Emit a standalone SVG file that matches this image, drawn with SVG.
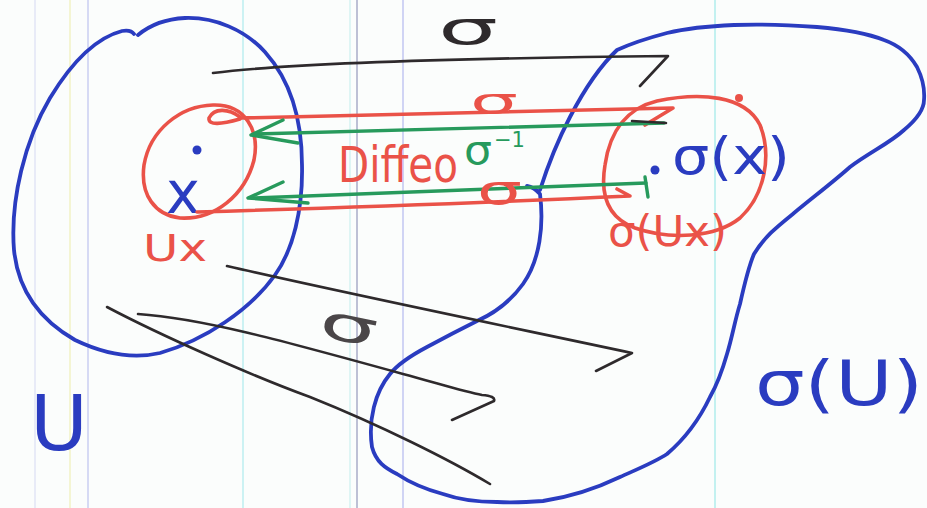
<svg xmlns="http://www.w3.org/2000/svg" width="927" height="508" viewBox="0 0 927 508">
<style>
.rule{stroke-width:1.5;fill:none}
.blue{stroke:#2a3cc0;stroke-width:3.8;fill:none;stroke-linecap:round;stroke-linejoin:round}
.red{stroke:#ea5248;stroke-width:3.6;fill:none;stroke-linecap:round;stroke-linejoin:round}
.green{stroke:#279a5c;stroke-width:3.4;fill:none;stroke-linecap:round;stroke-linejoin:round}
.black{stroke:#2e2a2c;stroke-width:2.6;fill:none;stroke-linecap:round;stroke-linejoin:round}
.t{font-family:"DejaVu Sans","Liberation Sans",sans-serif}
.tb{fill:#2a3cc0}.tr{fill:#ea5248}.tg{fill:#279a5c}.tk{fill:#2e2a2c}
</style>
<rect width="927" height="508" fill="#fbfdfc"/>
<g id="paper-rules">
<line class="rule" x1="35" y1="0" x2="35" y2="508" stroke="#e2e4f6"/>
<line class="rule" x1="70" y1="0" x2="70" y2="508" stroke="#f2f2c6"/>
<line class="rule" x1="88" y1="0" x2="88" y2="508" stroke="#cacef2"/>
<line class="rule" x1="243" y1="0" x2="243" y2="508" stroke="#bdeef0"/>
<line class="rule" x1="350" y1="0" x2="350" y2="508" stroke="#d4f2f2"/>
<line class="rule" x1="357" y1="0" x2="357" y2="508" stroke="#a9abc9"/>
<line class="rule" x1="403" y1="0" x2="403" y2="508" stroke="#c2c6f2"/>
<line class="rule" x1="715" y1="0" x2="715" y2="508" stroke="#b0ecec"/>
</g>
<g id="set-U">
<path class="blue" d="M138,35 C150,25 165,19 185,18 C215,17 245,30 265,52 C290,80 302,120 302,165 C303,210 293,250 275,275 C250,310 205,340 160,353 C130,360 100,352 75,340 C40,320 18,290 14,250 C10,200 25,140 50,98 C70,65 95,38 122,31 C128,30 132,31 134,34"/>
<text class="t tb" x="30" y="450" font-size="76" textLength="58" lengthAdjust="spacingAndGlyphs">U</text>
</g>
<g id="set-sigmaU">
<path class="blue" d="M527,186 Q534,187 540,194 C544,225 540,260 523,284 C510,302 495,313 477,321 C455,332 440,340 427,347 C410,356 398,364 390,374 C375,392 368,420 372,447 C376,462 385,468 397,474 C412,484 428,490 443,494 C460,500 480,502 497,502 C515,503 530,502 543,501 C570,497 597,488 620,477 C640,468 655,462 667,454 C687,437 700,418 710,397 C718,383 723,368 727,354 C732,338 735,320 740,304 C744,286 748,268 754,254 C765,236 778,226 794,213 C812,198 832,183 850,167 C870,152 890,143 904,130 C916,120 924,110 924,100 C925,88 922,77 917,67 C910,55 898,45 884,40 C864,32 840,29 817,27 C790,25 762,24 734,25 C710,26 688,28 667,33 C648,38 630,44 617,50 C598,68 583,92 570,117 C558,140 548,165 540,190"/>
<text class="t tb" x="755" y="405" font-size="62" textLength="168" lengthAdjust="spacingAndGlyphs">σ(U)</text>
</g>
<g id="nbhd-Ux">
<path class="red" d="M213,105 C180,106 150,130 144,165 C140,195 155,215 180,218 C215,220 245,195 254,160 C260,130 245,104 213,105 Z"/>
<path class="red" d="M240,117 C228,108 214,108 209,118 C208,126 222,124 240,119"/>
<circle cx="197" cy="150" r="4.5" fill="#2a3cc0"/>
<text class="t tb" x="166" y="213" font-size="58" textLength="34" lengthAdjust="spacingAndGlyphs">x</text>
<text class="t tr" x="143" y="261" font-size="38" textLength="64" lengthAdjust="spacingAndGlyphs">Ux</text>
</g>
<g id="nbhd-sigmaUx">
<path class="red" d="M657,101 C700,92 745,95 760,125 C772,155 765,195 740,218 C715,238 670,240 635,228 C608,218 600,195 605,165 C610,130 628,108 657,101 Z"/>
<circle cx="739" cy="98" r="4" fill="#ea5248"/>
<circle cx="655" cy="170" r="4.5" fill="#2a3cc0"/>
<text class="t tb" x="672" y="174" font-size="52" textLength="118" lengthAdjust="spacingAndGlyphs">σ(x)</text>
<text class="t tr" x="608" y="246" font-size="42" textLength="119" lengthAdjust="spacingAndGlyphs">σ(Ux)</text>
</g>
<g id="connectors">
<path class="black" d="M213,73 C300,62 480,58 668,56 L640,86"/>
<path class="black" d="M227,266 C330,290 500,325 632,353 L596,371"/>
<path class="black" d="M138,314 C200,318 280,340 403,374 C440,384 465,392 482,395 Q496,396 494,401 L452,420"/>
<path class="black" d="M107,307 C160,335 250,375 310,397 C380,425 450,460 490,484"/>
<path class="red" d="M240,118 C350,116 500,113 673,108 L645,125"/>
<path class="red" d="M197,212 C300,209 480,203 630,196 L617,189"/>
<path class="green" d="M664,123 L255,134"/>
<path class="green" d="M283,120 L251,135 L298,143"/>
<path class="black" d="M632,121 L666,123"/>
<path class="green" d="M646,183 L252,198"/>
<path class="green" d="M283,182 L248,198 L308,203"/>
<path class="green" d="M645,177 L648,197"/>
</g>
<g id="labels">
<text class="t tk" x="438" y="44" font-size="46" textLength="60" lengthAdjust="spacingAndGlyphs">σ</text>
<text class="t tr" x="470" y="114" font-size="36" textLength="48" lengthAdjust="spacingAndGlyphs">σ</text>
<text class="t tr" x="338" y="182" font-size="50" textLength="120" lengthAdjust="spacingAndGlyphs">Diffeo</text>
<text class="t tg" x="464" y="164" font-size="40" textLength="28" lengthAdjust="spacingAndGlyphs">σ</text>
<text class="t tg" x="494" y="147" font-size="22" textLength="31" lengthAdjust="spacingAndGlyphs">−1</text>
<text class="t tr" x="477" y="204" font-size="40" textLength="45" lengthAdjust="spacingAndGlyphs">σ</text>
<text class="t" x="320" y="342" font-size="48" fill="#4a4648" textLength="58" lengthAdjust="spacingAndGlyphs" transform="rotate(12 349 325)">σ</text>
</g>
</svg>
